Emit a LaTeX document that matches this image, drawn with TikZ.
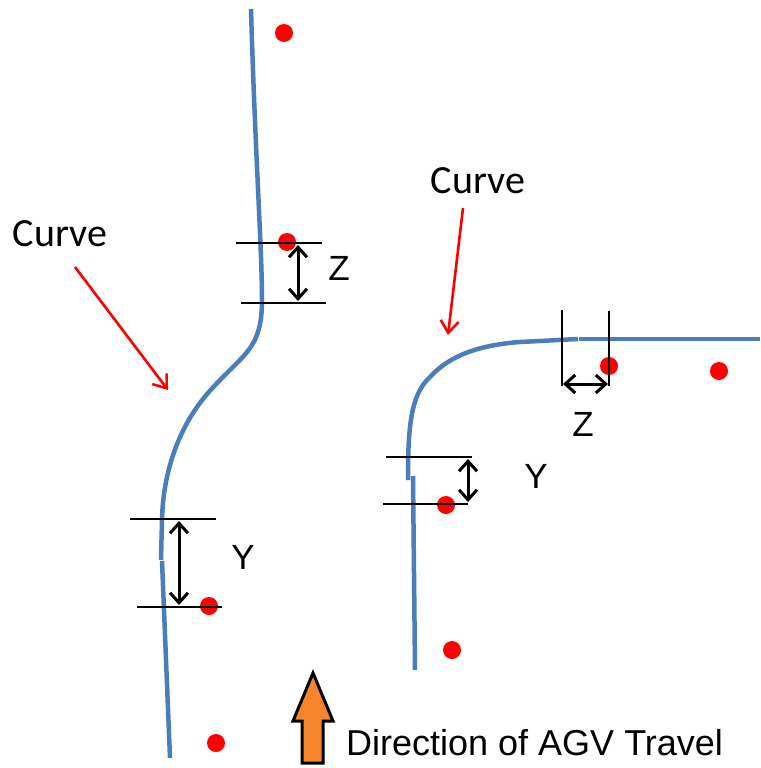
\documentclass[tikz,border=0pt]{standalone}
\usepackage{fontspec}
\setmainfont{Liberation Sans}
\newfontfamily\calfont{Carlito}
\usetikzlibrary{arrows.meta}
\definecolor{pathblue}{HTML}{4A7EBB}
\definecolor{arroworange}{HTML}{F5842A}
\tikzset{
  path/.style={draw=pathblue, line width=4.5pt, line cap=butt},
  marker/.style={circle, fill=red, inner sep=0pt, minimum size=18pt},
  thinline/.style={draw=black, line width=1.2pt},
  dimarrow/.style={draw=black, line width=3pt, {Straight Barb[length=10pt,width=18pt]}-{Straight Barb[length=10pt,width=18pt]}},
  redarrow/.style={draw=red, line width=2.6pt, -{Straight Barb[length=12pt,width=18pt]}},
  calabel/.style={font=\calfont\fontsize{40}{48}\selectfont, inner sep=0pt},
  letter/.style={font=\fontsize{35}{42}\selectfont, inner sep=0pt},
}
\begin{document}
\begin{tikzpicture}[x=1pt,y=-1pt]
\useasboundingbox (0,0) rectangle (760,768);
\fill[white] (0,0) rectangle (760,768);

% ---- left path (S-curve) ----
\draw[path] (251,9) .. controls (255,150) and (262,250) .. (262,300)
  .. controls (262,340) and (250,350) .. (230,370)
  .. controls (215,385) and (205,395) .. (195,410)
  .. controls (180,432) and (163,470) .. (162,520) -- (161,560);
\draw[path] (162,561) -- (170,758);

% left markers
\node[marker] (l1) at (284,33) {};
\node[marker] (l2) at (287,242) {};
\node[marker] (l3) at (209,606) {};
\node[marker] (l4) at (216,743) {};

% left Z dimension
\coordinate (lza) at (236,243); \coordinate (lzb) at (322,243);
\coordinate (lzc) at (241,303); \coordinate (lzd) at (326,303);
\draw[thinline] (lza) -- (lzb);
\draw[thinline] (lzc) -- (lzd);
\coordinate (lzt) at (298,245); \coordinate (lzu) at (298,301);
\draw[dimarrow] (lzt) -- (lzu);
\node[letter] (lz) at (339,268) {Z};

% left Y dimension
\coordinate (lya) at (130,519); \coordinate (lyb) at (216,519);
\coordinate (lyc) at (137,607); \coordinate (lyd) at (222,607);
\draw[thinline] (lya) -- (lyb);
\draw[thinline] (lyc) -- (lyd);
\coordinate (lyt) at (179,521); \coordinate (lyu) at (179,605);
\draw[dimarrow] (lyt) -- (lyu);
\node[letter] (ly) at (243,557) {Y};

% left Curve label
\node[calabel] (lc) at (60,234) {Curve};
\coordinate (lct) at (168,390);
\draw[redarrow] (75,267) -- (lct);

% ---- right path (corner) ----
\draw[path] (413,476) -- (415,670);
\draw[path] (408,480) .. controls (408,430) and (410,395) .. (430,377)
  .. controls (450,355) and (480,345) .. (520,342) -- (578,339);
\draw[path] (579,339) -- (760,339);

% right markers
\node[marker] (r1) at (609,366) {};
\node[marker] (r2) at (719,371) {};
\node[marker] (r3) at (446,505) {};
\node[marker] (r4) at (452,650) {};

% right Z dimension
\coordinate (rza) at (562,310); \coordinate (rzb) at (562,386);
\coordinate (rzc) at (609,311); \coordinate (rzd) at (609,386);
\draw[thinline] (rza) -- (rzb);
\draw[thinline] (rzc) -- (rzd);
\coordinate (rzt) at (563,384); \coordinate (rzu) at (608,384);
\draw[dimarrow] (rzt) -- (rzu);
\node[letter] (rz) at (583,424) {Z};

% right Y dimension
\coordinate (rya) at (386,457); \coordinate (ryb) at (472,457);
\coordinate (ryc) at (383,504); \coordinate (ryd) at (468,504);
\draw[thinline] (rya) -- (ryb);
\draw[thinline] (ryc) -- (ryd);
\coordinate (ryt) at (468,459); \coordinate (ryu) at (468,502);
\draw[dimarrow] (ryt) -- (ryu);
\node[letter] (ry) at (536,476) {Y};

% right Curve label
\node[calabel] (rc) at (478,181) {Curve};
\coordinate (rct) at (448,335);
\draw[redarrow] (463,208) -- (rct);

% ---- direction arrow ----
\draw[fill=arroworange, draw=black, line width=3pt, line join=miter]
  (302,763) -- (302,721) -- (293,721) -- (313,673) -- (333,721) -- (323,721) -- (323,763) -- cycle;
\node[font=\fontsize{36}{43}\selectfont, anchor=west, inner sep=0pt] (dir) at (346,743) {Direction of AGV Travel};
\end{tikzpicture}
\end{document}
